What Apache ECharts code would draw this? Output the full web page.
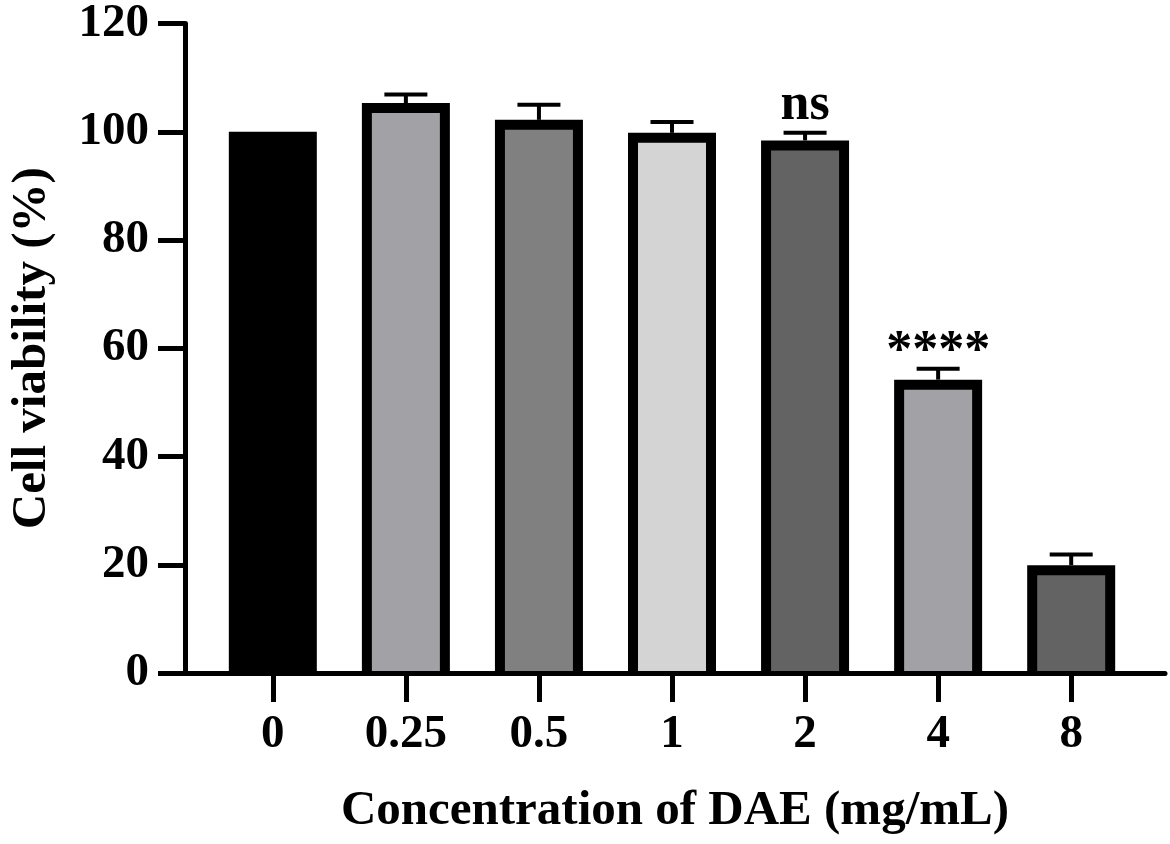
<!DOCTYPE html>
<html>
<head>
<meta charset="utf-8">
<script src="https://cdn.jsdelivr.net/npm/echarts@6/dist/echarts.min.js"></script>
<style>
  html, body { margin: 0; padding: 0; background: #fff; }
  #main { width: 1170px; height: 844px; }
</style>
</head>
<body>
<div id="main"></div>
<script>
// concentrations (mg/mL)
const categories = ['0', '0.25', '0.5', '1', '2', '4', '8'];
// mean cell viability (%)
const viability = [100, 105.3, 102.2, 99.8, 98.4, 54.2, 19.9];
// SD (upper error only)
const errors = [0, 1.6, 2.8, 2.0, 1.4, 2.0, 2.0];
// significance marks
const marks = ['', '', '', '', 'ns', '****', ''];
const barColors = ['#000000', '#a2a1a6', '#808080', '#d4d4d4', '#636363', '#a2a1a6', '#636363'];

const FONT = '"Liberation Serif", "Times New Roman", serif';
const BAR_W = 88;
const BORDER = 10;

const chart = echarts.init(document.getElementById('main'));

const seriesData = viability.map((v, i) => [i, v, v + errors[i]]);

function renderBar(params, api) {
  const i = params.dataIndex;
  const x = api.value(0);
  const p0 = api.coord([x, 0]);
  const p1 = api.coord([x, api.value(1)]);
  const left = p0[0] - BAR_W / 2;
  const h = p0[1] - p1[1];
  return {
    type: 'group',
    children: [
      {
        type: 'rect',
        shape: { x: left, y: p1[1], width: BAR_W, height: h },
        style: { fill: '#000' }
      },
      {
        type: 'rect',
        shape: { x: left + BORDER, y: p1[1] + BORDER, width: BAR_W - 2 * BORDER, height: Math.max(0, h - BORDER) },
        style: { fill: barColors[i] }
      }
    ]
  };
}

function renderError(params, api) {
  const i = params.dataIndex;
  const x = api.value(0);
  const base = api.coord([x, api.value(1)]);
  const top = api.coord([x, api.value(2)]);
  const children = [];
  if (errors[i] > 0) {
    children.push({
      type: 'line',
      shape: { x1: base[0], y1: base[1], x2: top[0], y2: top[1] },
      style: { stroke: '#000', lineWidth: 4 }
    });
    children.push({
      type: 'line',
      shape: { x1: top[0] - 21.5, y1: top[1], x2: top[0] + 21.5, y2: top[1] },
      style: { stroke: '#000', lineWidth: 4 }
    });
  }
  if (marks[i]) {
    const isNs = marks[i] === 'ns';
    children.push({
      type: 'text',
      x: top[0],
      y: top[1] + (isNs ? -27 : -16),
      style: {
        text: marks[i],
        fontFamily: FONT,
        fontWeight: 'bold',
        fontSize: 52,
        fill: '#000',
        align: 'center',
        verticalAlign: 'middle'
      }
    });
  }
  return { type: 'group', children: children };
}

chart.setOption({
  animation: false,
  grid: { left: 183, right: 5, top: 21, bottom: 171, containLabel: false },
  xAxis: {
    type: 'value',
    min: -0.66,
    max: 6.705,
    name: 'Concentration of DAE (mg/mL)',
    nameLocation: 'middle',
    nameGap: 114,
    nameTextStyle: { fontFamily: FONT, fontWeight: 'bold', fontSize: 49, color: '#000' },
    splitLine: { show: false },
    axisLine: { show: true, onZero: false, lineStyle: { color: '#000', width: 5 } },
    axisTick: {
      show: true, length: 29, customValues: categories.map((c, i) => i),
      lineStyle: { color: '#000', width: 5 }
    },
    axisLabel: {
      customValues: categories.map((c, i) => i),
      formatter: v => categories[Math.round(v)],
      margin: 38,
      fontFamily: FONT, fontWeight: 'bold', fontSize: 47, color: '#000'
    },
    z: 3
  },
  yAxis: {
    type: 'value',
    min: 0,
    max: 120,
    interval: 20,
    name: 'Cell viability (%)',
    nameLocation: 'middle',
    nameGap: 128,
    nameTextStyle: { fontFamily: FONT, fontWeight: 'bold', fontSize: 49, color: '#000' },
    splitLine: { show: false },
    axisLine: { show: true, onZero: false, lineStyle: { color: '#000', width: 5 } },
    axisTick: { show: true, length: 27, lineStyle: { color: '#000', width: 5 } },
    axisLabel: {
      margin: 36,
      fontFamily: FONT, fontWeight: 'bold', fontSize: 47, color: '#000'
    },
    z: 3
  },
  series: [
    {
      type: 'custom',
      name: 'bars',
      data: seriesData,
      renderItem: renderBar,
      clip: false,
      z: 2
    },
    {
      type: 'custom',
      name: 'errors',
      data: seriesData,
      renderItem: renderError,
      clip: false,
      z: 1
    }
  ]
});
</script>
</body>
</html>
